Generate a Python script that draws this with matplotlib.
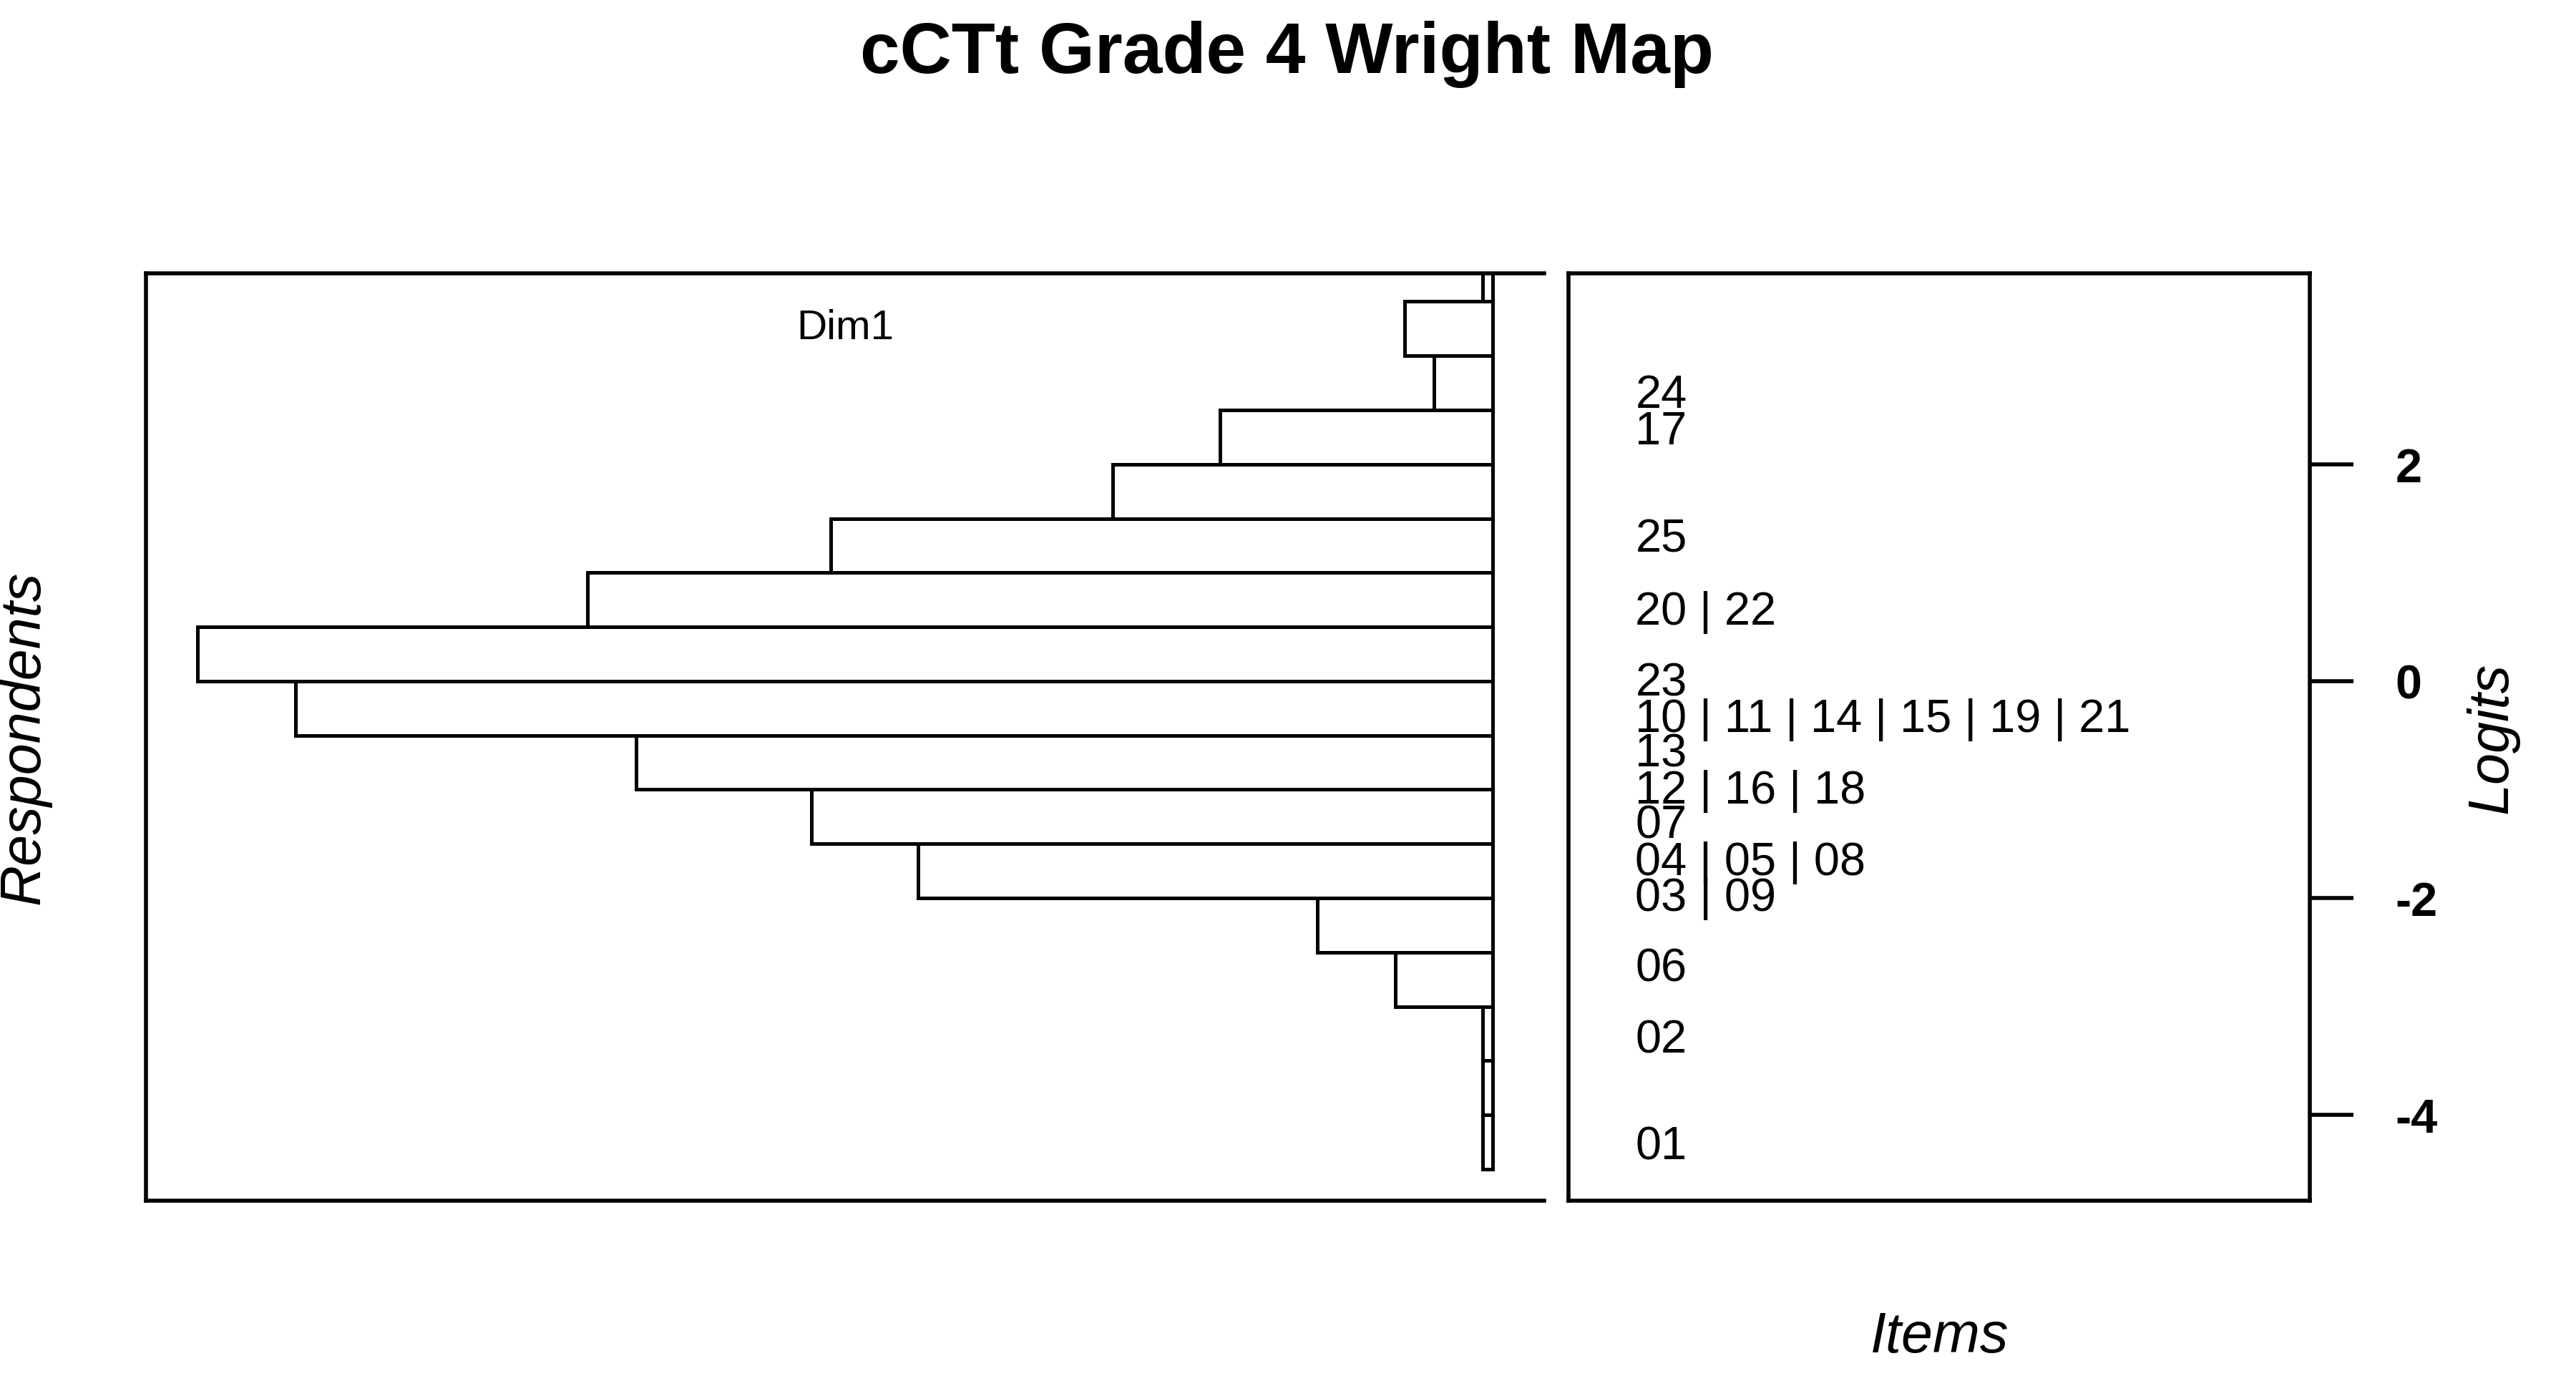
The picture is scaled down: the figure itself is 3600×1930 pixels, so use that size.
import numpy as np
import matplotlib
matplotlib.use('Agg')
import matplotlib.pyplot as plt
import matplotlib.transforms as mtransforms

plt.rcParams['font.family'] = ['Liberation Sans', 'DejaVu Sans']
plt.rcParams['axes.unicode_minus'] = False

# respondent histogram (logit bins of width 0.5, counts)
bin_lo = [3.5, 3.0, 2.5, 2.0, 1.5, 1.0, 0.5, 0.0, -0.5, -1.0, -1.5, -2.0, -2.5, -3.0, -3.5, -4.0, -4.5]
counts = [1, 9, 6, 28, 39, 68, 93, 133, 123, 88, 70, 59, 18, 10, 1, 1, 1]

# item locations
item_labels = ['24', '17', '25', '20 | 22', '23', '10 | 11 | 14 | 15 | 19 | 21', '13',
               '12 | 16 | 18', '07', '04 | 05 | 08', '03 | 09', '06', '02', '01']
item_logits = [2.64, 2.30, 1.31, 0.64, -0.02, -0.35, -0.67, -1.01, -1.33, -1.67, -2.00, -2.65, -3.31, -4.29]

logit_ticks = [2, 0, -2, -4]
ylim = (-4.79, 3.76)

lw = 2.0
fig = plt.figure(figsize=(18, 9.655), dpi=200)

# left panel: respondents
ax1 = fig.add_axes([0.0567, 0.1305, 0.5428, 0.6712])
ax1.barh(np.array(bin_lo) + 0.25, counts, height=0.5, color='white',
         edgecolor='black', linewidth=1.8)
mx = max(counts)
ax1.set_xlim(1.04 * mx, -0.04 * mx)
ax1.set_ylim(*ylim)
ax1.set_xticks([])
ax1.set_yticks([])
ax1.spines['right'].set_visible(False)
for s in ['left', 'top', 'bottom']:
    ax1.spines[s].set_linewidth(lw)
ax1.text(0.5, 0.941, 'Dim1', transform=ax1.transAxes, ha='center', va='center', fontsize=21)

# right panel: items
ax2 = fig.add_axes([0.6089, 0.1305, 0.2878, 0.6712])
ax2.set_ylim(*ylim)
ax2.set_xlim(0, 1)
ax2.set_xticks([])
ax2.yaxis.tick_right()
ax2.set_yticks(logit_ticks)
ax2.set_yticklabels([str(t) for t in logit_ticks], fontweight='bold', fontsize=24)
ax2.tick_params(axis='y', length=22, width=lw, pad=21)
for s in ax2.spines.values():
    s.set_linewidth(lw)
trans = mtransforms.blended_transform_factory(ax2.transAxes, ax2.transData)
for lab, y in zip(item_labels, item_logits):
    ax2.text(0.09, y, lab, transform=trans, ha='left', va='center', fontsize=23.4)

fig.text(0.4997, 0.9607, 'cCTt Grade 4 Wright Map', ha='center', va='center',
         fontsize=36, fontweight='bold')
fig.text(0.0096, 0.466, 'Respondents', rotation=90, ha='center', va='center',
         fontsize=28.5, style='italic')
fig.text(0.9675, 0.466, 'Logits', rotation=90, ha='center', va='center',
         fontsize=28.5, style='italic')
fig.text(0.753, 0.032, 'Items', ha='center', va='center', fontsize=28.5, style='italic')

fig.savefig('out.png', dpi=200)
